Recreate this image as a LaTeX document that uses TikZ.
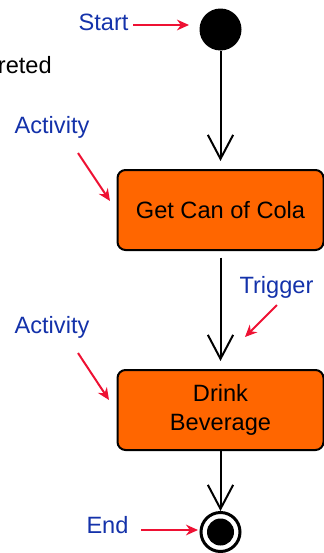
\documentclass[tikz,border=0pt]{standalone}
\usepackage{fontspec}
\setmainfont{Liberation Sans}
\usetikzlibrary{arrows.meta}
\definecolor{actorange}{RGB}{255,102,0}
\definecolor{notered}{RGB}{238,17,51}
\definecolor{noteblue}{RGB}{20,50,170}
\tikzset{
	activity/.style={draw,line width=1.5pt,fill=actorange,rounded corners=6pt,minimum width=154.5pt,minimum height=60pt,align=center,font=\fontsize{17.7}{21.75}\selectfont},
	note/.style={text=noteblue,anchor=base,inner sep=0pt,font=\fontsize{17.7}{21}\selectfont},
	pointer/.style={draw=notered,line width=1.5pt,-{Stealth[length=9pt,width=8pt]}},
	flow/.style={line width=1.5pt,-{Straight Barb[length=18pt,width=19pt]}}
}
\begin{document}
\begin{tikzpicture}[x=0.75pt,y=-0.75pt]
	\useasboundingbox (0,0) rectangle (324,553);

	\node[circle,fill=black,minimum size=31.5pt,inner sep=0pt] (start) at (220.5,29.5) {};
	\node[activity] (cola) at (220.5,210) {Get Can of Cola};
	\node[activity] (drink) at (220.5,410) {\raisebox{-2.25pt}{Drink}\\\raisebox{-2.25pt}{Beverage}};
	\node[circle,draw,line width=2.25pt,fill=white,minimum size=29.25pt,inner sep=0pt] (end) at (220.5,532) {};
	\node[circle,fill=black,minimum size=20.25pt,inner sep=0pt] (enddot) at (end) {};

	\draw[flow,shorten >=6pt] (start) -- (cola);
	\draw[flow,shorten <=5pt,shorten >=6pt] (cola) -- (drink);
	\draw[flow] (drink) -- (end);

	\node[note] (startlabel) at (103.5,30) {Start};
	\node[anchor=base east,inner sep=0pt,font=\fontsize{17.7}{21}\selectfont] (cut) at (52,73) {reted};
	\node[note] (act1) at (52,133) {Activity};
	\node[note] (trigger) at (276.5,293) {Trigger};
	\node[note] (act2) at (52,333) {Activity};
	\node[note] (endlabel) at (107.5,533) {End};

	\coordinate (startfrom) at (133,25);
	\coordinate (startto) at (189,25);
	\coordinate (act1from) at (78,153);
	\coordinate (act1to) at (110,201);
	\coordinate (trigfrom) at (277,305);
	\coordinate (trigto) at (245,337);
	\coordinate (act2from) at (78,353);
	\coordinate (act2to) at (109,400);
	\coordinate (endfrom) at (141,530);
	\coordinate (endto) at (198,530);

	\draw[pointer] (startfrom) -- (startto);
	\draw[pointer] (act1from) -- (act1to);
	\draw[pointer] (trigfrom) -- (trigto);
	\draw[pointer] (act2from) -- (act2to);
	\draw[pointer] (endfrom) -- (endto);
\end{tikzpicture}
\end{document}
